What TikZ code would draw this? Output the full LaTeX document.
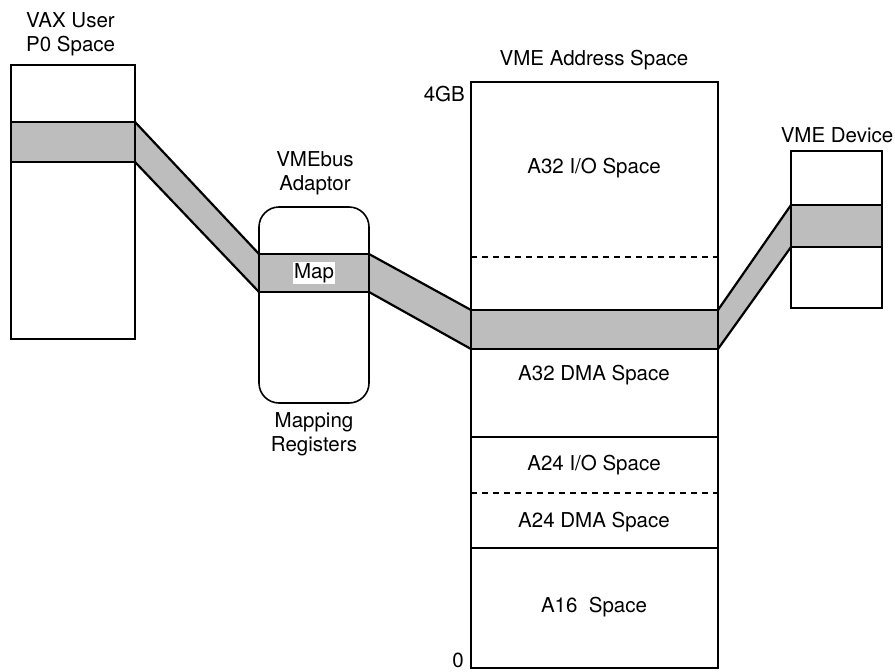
\documentclass[tikz,border=0pt]{standalone}
\usepackage{fontspec}
\setmainfont{TeX Gyre Heros}
\usepackage{tikz}
\usetikzlibrary{backgrounds}
\definecolor{bandgray}{gray}{0.74}
\tikzset{
  membox/.style={draw, line width=1.6pt, anchor=north west, inner sep=0pt, outer sep=0pt},
  bandbox/.style={draw, fill=bandgray, line width=2.2pt, anchor=north west, inner sep=0pt, outer sep=0pt},
  bandedge/.style={line width=2.2pt},
  divider/.style={line width=1.5pt},
  lbl/.style={align=center, inner sep=0pt, font=\fontsize{20.5}{24}\selectfont}
}

\begin{document}
\begin{tikzpicture}[x=1pt, y=-1pt]
                \useasboundingbox (0,0) rectangle (895,672);

                \node[membox, minimum width=124pt, minimum height=274pt] (p0) at (11,65) {};
                \node[membox, rounded corners=20pt, minimum width=110pt, minimum height=196pt] (adaptor) at (259,207) {};
                \node[membox, minimum width=247pt, minimum height=586pt] (vme) at (471,82) {};
                \node[membox, minimum width=91pt, minimum height=157pt] (dev) at (791,151) {};

                \draw[divider, dash pattern=on 6pt off 5pt] (471,257) -- (718,257);
                \draw[divider] (471,437) -- (718,437);
                \draw[divider, dash pattern=on 6pt off 5pt] (471,493) -- (718,493);
                \draw[divider] (471,548) -- (718,548);

                \node[bandbox, minimum width=124pt, minimum height=40pt] (p0band) at (11,122) {};
                \node[bandbox, minimum width=110pt, minimum height=38pt] (mapband) at (259,254) {};
                \node[bandbox, minimum width=247pt, minimum height=39pt] (vmeband) at (471,310) {};
                \node[bandbox, minimum width=91pt, minimum height=42pt] (devband) at (791,205) {};

                \begin{scope}[on background layer]
                \fill[bandgray] (p0band.north east) -- (mapband.north west) -- (mapband.south west) -- (p0band.south east) -- cycle;
                \fill[bandgray] (mapband.north east) -- (vmeband.north west) -- (vmeband.south west) -- (mapband.south east) -- cycle;
                \fill[bandgray] (vmeband.north east) -- (devband.north west) -- (devband.south west) -- (vmeband.south east) -- cycle;
                \end{scope}
                \draw[bandedge] (p0band.north east) -- (mapband.north west);
                \draw[bandedge] (p0band.south east) -- (mapband.south west);
                \draw[bandedge] (mapband.north east) -- (vmeband.north west);
                \draw[bandedge] (mapband.south east) -- (vmeband.south west);
                \draw[bandedge] (vmeband.north east) -- (devband.north west);
                \draw[bandedge] (vmeband.south east) -- (devband.south west);

                \node[lbl, fill=white, inner sep=1.5pt] (map) at (mapband) {Map};

                \node[lbl, align=left, anchor=west] (p0lbl) at (26,34) {VAX User\\P0 Space};
                \node[lbl] (adaptorlbl) at (315,173) {VMEbus\\Adaptor};
                \node[lbl] (reglbl) at (314,434) {Mapping\\Registers};
                \node[lbl] (vmelbl) at (594,60) {VME Address Space};
                \node[lbl, anchor=east] (top) at (465,94) {4GB};
                \node[lbl] (bottom) at (458,660) {0};
                \node[lbl] (devlbl) at (837,135) {VME Device};

                \node[lbl] (a32io) at (594,168) {A32 I/O Space};
                \node[lbl] (a32dma) at (594,375) {A32 DMA Space};
                \node[lbl] (a24io) at (594,465) {A24 I/O Space};
                \node[lbl] (a24dma) at (594,522) {A24 DMA Space};
                \node[lbl] (a16) at (594,607) {A16\ \ Space};
\end{tikzpicture}
\end{document}
